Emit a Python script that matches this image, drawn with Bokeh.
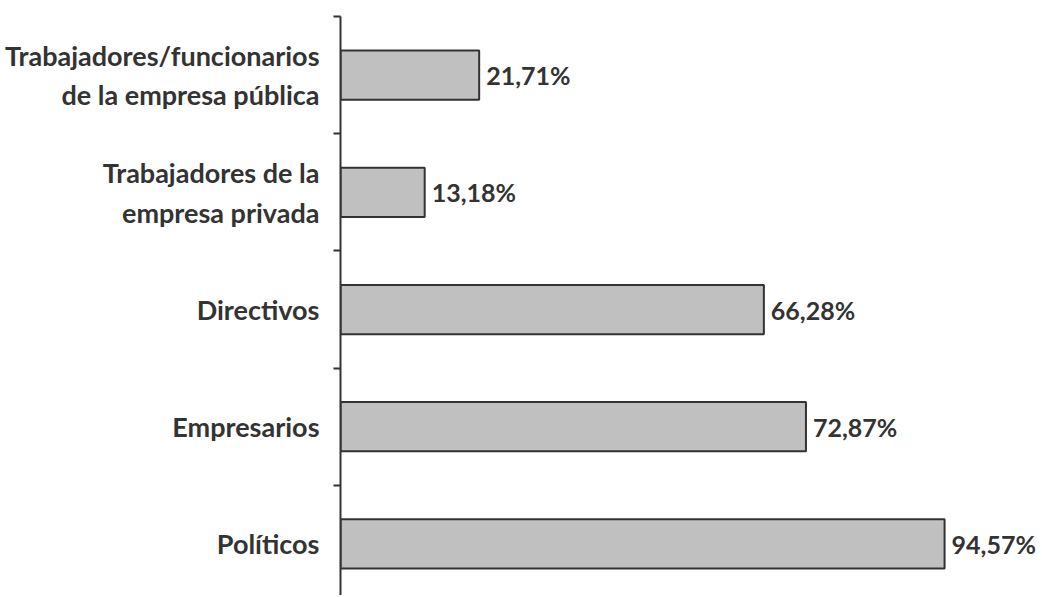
from bokeh.plotting import figure
from bokeh.models import Range1d, FixedTicker, ColumnDataSource
from bokeh.core.properties import value
from bokeh.embed import file_html
from bokeh.resources import INLINE

categories = [
    "Trabajadores/funcionarios\nde la empresa pública",
    "Trabajadores de la\nempresa privada",
    "Directivos",
    "Empresarios",
    "Políticos",
]
values = [21.71, 13.18, 66.28, 72.87, 94.57]
value_labels = ["21,71%", "13,18%", "66,28%", "72,87%", "94,57%"]

positions = list(range(len(categories)))
source = ColumnDataSource(dict(y=positions, v=values, lab=value_labels))

FONT = "Lato"
TEXT_COLOR = "#333333"

p = figure(
    width=1042, height=595,
    output_backend="svg", toolbar_location=None,
    x_range=Range1d(0, 109.9), y_range=Range1d(4.44, -0.5),
    x_axis_location=None,
    min_border_left=340, min_border_right=0, min_border_top=16, min_border_bottom=0,
)
p.outline_line_color = None
p.grid.visible = False
p.background_fill_color = "white"
p.border_fill_color = "white"

p.hbar(y="y", right="v", left=0, height=0.42, source=source,
       fill_color="#c0c0c0", line_color="#333333", line_width=2)

p.text(x="v", y="y", text="lab", source=source, x_offset=7,
       text_font=value(FONT), text_font_style="bold", text_font_size="25px",
       text_color=TEXT_COLOR, text_baseline="middle", text_align="left")

ax = p.yaxis[0]
ax.ticker = FixedTicker(ticks=positions, minor_ticks=[-0.5, 0.5, 1.5, 2.5, 3.5, 4.5])
ax.major_label_overrides = {i: c for i, c in enumerate(categories)}
ax.major_tick_out = 0
ax.major_tick_in = 0
ax.minor_tick_out = 7
ax.minor_tick_in = 0
ax.minor_tick_line_color = "#333333"
ax.minor_tick_line_width = 2
ax.axis_line_color = "#333333"
ax.axis_line_width = 2
ax.major_label_standoff = 14
ax.major_label_text_font = FONT
ax.major_label_text_font_style = "bold"
ax.major_label_text_font_size = "27px"
ax.major_label_text_color = TEXT_COLOR

open("out.html", "w").write(file_html(p, INLINE))
